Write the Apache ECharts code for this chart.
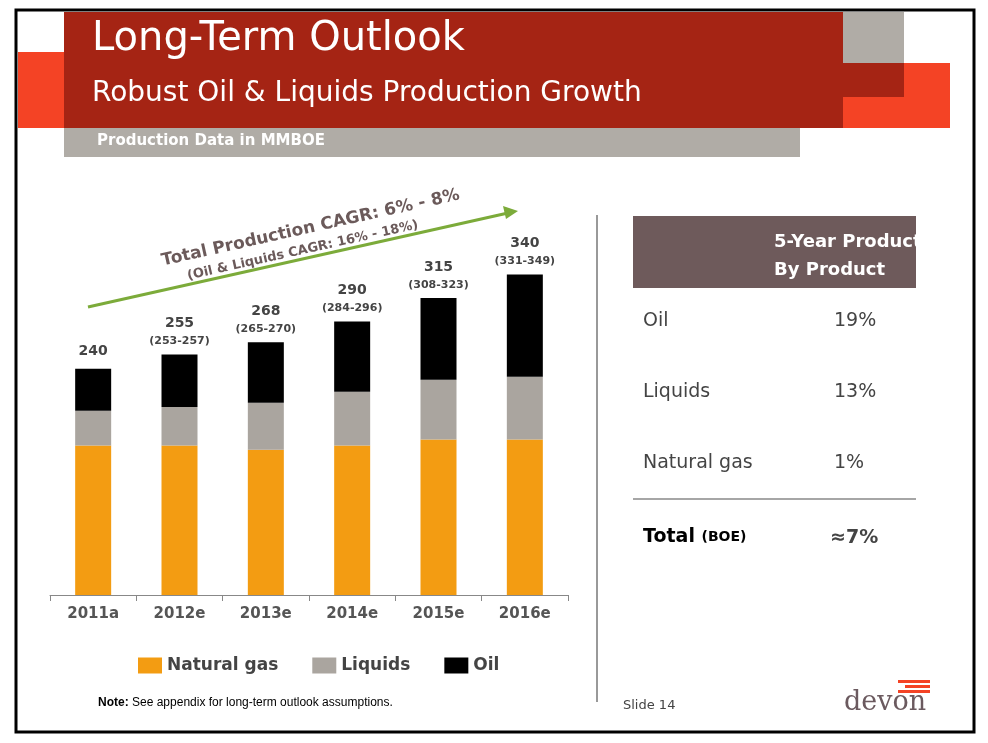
<!DOCTYPE html>
<html>
<head>
<meta charset="utf-8">
<script src="https://cdn.jsdelivr.net/npm/echarts@6/dist/echarts.min.js"></script>
<style>html,body{margin:0;padding:0;background:#fff}#main{width:988px;height:743px}</style>
</head>
<body>
<div id="main"></div>
<script>
var years = ['2011a', '2012e', '2013e', '2014e', '2015e', '2016e'];
var naturalGas = [158.5, 158.5, 154, 158.5, 165, 165];
var liquids = [37, 41, 50, 57, 63.4, 66.6];
var oil = [44.5, 55.5, 64, 74.5, 86.6, 108.4];
var totals = [240, 255, 268, 290, 315, 340];
var ranges = ['', '(253-257)', '(265-270)', '(284-296)', '(308-323)', '(331-349)'];
var cagrProducts = ['Oil', 'Liquids', 'Natural gas'];
var cagrValues = ['19%', '13%', '1%'];

var chart = echarts.init(document.getElementById('main'));
var font = 'DejaVu Sans';
var rows = [];
cagrProducts.forEach(function (p, i) {
  var y = 323 + i * 71;
  rows.push({type: 'text', left: 643, top: y - 11, style: {text: p, font: '19px ' + font, fill: '#444'}});
  rows.push({type: 'text', left: 834, top: y - 11, style: {text: cagrValues[i], font: '19px ' + font, fill: '#444'}});
});

chart.setOption({
  animation: false,
  textStyle: {fontFamily: font},
  grid: {left: 50, right: 420, top: 100, bottom: 148},
  xAxis: {
    type: 'category', data: years,
    axisLine: {lineStyle: {color: '#888'}},
    axisTick: {show: true, length: 6, lineStyle: {color: '#888'}},
    axisLabel: {color: '#555', fontSize: 15, fontWeight: 'bold', margin: 12}
  },
  yAxis: {type: 'value', min: 0, max: 525, show: false, splitLine: {show: false}},
  legend: {
    bottom: 64, left: 133, itemWidth: 24, itemHeight: 16, itemGap: 34,
    textStyle: {fontSize: 17, color: '#444', fontWeight: 'bold'},
    data: [{name: 'Natural gas', icon: 'rect'}, {name: 'Liquids', icon: 'rect'}, {name: 'Oil', icon: 'rect'}]
  },
  series: [
    {name: 'Natural gas', type: 'bar', stack: 'p', barWidth: 36, data: naturalGas, itemStyle: {color: '#f39c12'}},
    {name: 'Liquids', type: 'bar', stack: 'p', data: liquids, itemStyle: {color: '#aaa59f'}},
    {name: 'Oil', type: 'bar', stack: 'p', data: oil, itemStyle: {color: '#000'},
      label: {show: true, position: 'top', distance: 6,
        formatter: function (p) {
          var r = ranges[p.dataIndex];
          return '{t|' + totals[p.dataIndex] + '}' + (r ? '\n{r|' + r + '}' : '');
        },
        rich: {t: {fontSize: 14, fontWeight: 'bold', color: '#444', lineHeight: 22},
               r: {fontSize: 11, fontWeight: 'bold', color: '#444', lineHeight: 14}}}}
  ],
  graphic: [
    {type: 'rect', shape: {x: 16, y: 10, width: 958, height: 722}, style: {fill: 'none', stroke: '#000', lineWidth: 3}, z: 100},
    {type: 'rect', shape: {x: 18, y: 52, width: 50, height: 76}, style: {fill: '#f44325'}},
    {type: 'rect', shape: {x: 64, y: 12, width: 779, height: 116}, style: {fill: '#a52414'}},
    {type: 'rect', shape: {x: 843, y: 12, width: 61, height: 51}, style: {fill: '#b0aca6'}},
    {type: 'rect', shape: {x: 843, y: 63, width: 61, height: 34}, style: {fill: '#a52414'}},
    {type: 'rect', shape: {x: 904, y: 63, width: 46, height: 65}, style: {fill: '#f44325'}},
    {type: 'rect', shape: {x: 843, y: 97, width: 61, height: 31}, style: {fill: '#f44325'}},
    {type: 'text', left: 92, top: 20, style: {text: 'Long-Term Outlook', font: '40px ' + font, fill: '#fff'}},
    {type: 'text', left: 92, top: 80, style: {text: 'Robust Oil & Liquids Production Growth', font: '28px ' + font, fill: '#fff'}},
    {type: 'rect', shape: {x: 64, y: 128, width: 736, height: 29}, style: {fill: '#b0aca6'}},
    {type: 'text', left: 97, top: 134, style: {text: 'Production Data in MMBOE', font: 'bold 15px ' + font, fill: '#fff'}},
    {type: 'line', shape: {x1: 88, y1: 307, x2: 508, y2: 213}, style: {stroke: '#7cab3a', lineWidth: 3}},
    {type: 'polygon', shape: {points: [[518, 211], [503, 206], [506, 219]]}, style: {fill: '#7cab3a'}},
    {type: 'text', x: 160, y: 253, rotation: 12.6 * Math.PI / 180, style: {text: 'Total Production CAGR: 6% - 8%', font: 'bold 17px ' + font, fill: '#6b5a5a'}},
    {type: 'text', x: 186, y: 270, rotation: 12.6 * Math.PI / 180, style: {text: '(Oil & Liquids CAGR: 16% - 18%)', font: 'bold 13px ' + font, fill: '#6b5a5a'}},
    {type: 'line', shape: {x1: 597, y1: 215, x2: 597, y2: 702}, style: {stroke: '#999', lineWidth: 2}},
    {type: 'rect', shape: {x: 633, y: 216, width: 283, height: 72}, style: {fill: '#6e5a5b'}},
    {type: 'text', left: 774, top: 228, style: {text: '5-Year Production CAGR\nBy Product', font: 'bold 18px ' + font, fill: '#fff', align: 'center', lineHeight: 28}},
    {type: 'line', shape: {x1: 633, y1: 499, x2: 916, y2: 499}, style: {stroke: '#888', lineWidth: 1.5}},
    {type: 'text', left: 643, top: 528, style: {rich: {a: {fontSize: 19, fontWeight: 'bold', color: '#444', fontFamily: font}, b: {fontSize: 14, fontWeight: 'bold', color: '#444', fontFamily: font}}, text: '{a|Total }{b|(BOE)}'}},
    {type: 'text', left: 830, top: 529, style: {text: '≈7%', font: 'bold 19px ' + font, fill: '#444'}},
    {type: 'text', left: 98, top: 697, style: {rich: {a: {fontWeight: 'bold', fontSize: 12, color: '#444'}, b: {fontSize: 12, color: '#444'}}, text: '{a|Note:}{b| See appendix for long-term outlook assumptions.}'}},
    {type: 'text', left: 623, top: 699, style: {text: 'Slide 14', font: '13px ' + font, fill: '#444'}},
    {type: 'rect', shape: {x: 898, y: 680, width: 32, height: 3}, style: {fill: '#f44325'}},
    {type: 'rect', shape: {x: 905, y: 685, width: 25, height: 3}, style: {fill: '#f44325'}},
    {type: 'rect', shape: {x: 898, y: 690, width: 32, height: 3}, style: {fill: '#f44325'}},
    {type: 'text', left: 844, top: 689, style: {text: 'devon', font: '27px "DejaVu Serif"', fill: '#6b5a5f'}}
  ].concat(rows)
});
</script>
</body>
</html>
